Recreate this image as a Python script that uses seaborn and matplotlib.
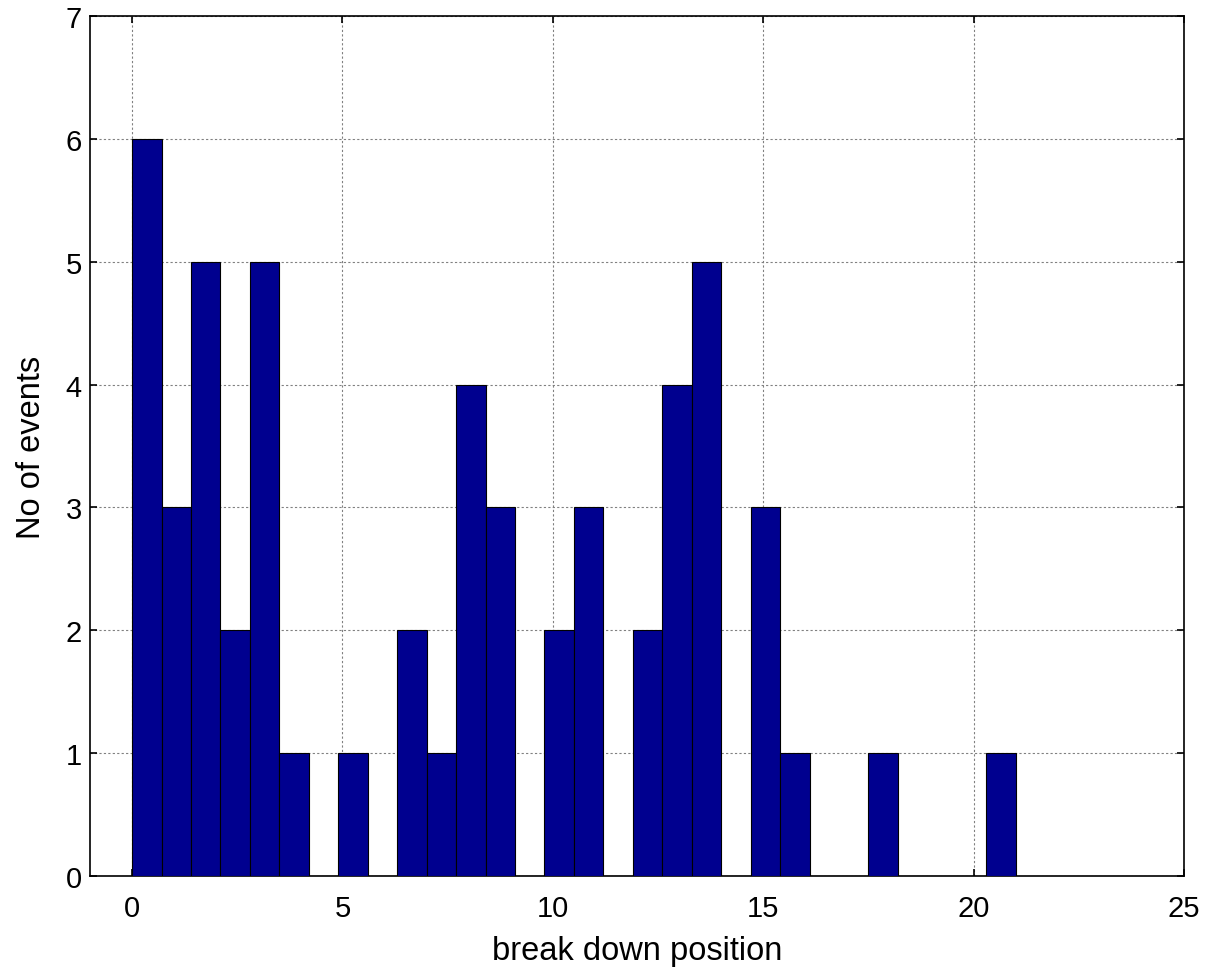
import numpy as np
import pandas as pd
import matplotlib
matplotlib.use("Agg")
import matplotlib.pyplot as plt
import seaborn as sns

# Histogram data (bins of width 0.7 from 0 to 21)
bin_width = 0.7
n_bins = 30
counts = [6, 3, 5, 2, 5, 1, 0, 1, 0, 2,
          1, 4, 3, 0, 2, 3, 0, 2, 4, 5,
          0, 3, 1, 0, 0, 1, 0, 0, 0, 1]
x_ticks = [0, 5, 10, 15, 20, 25]
y_ticks = [0, 1, 2, 3, 4, 5, 6, 7]
x_label = "break down position"
y_label = "No of events"

edges = np.arange(n_bins + 1) * bin_width
centers = (edges[:-1] + edges[1:]) / 2
df = pd.DataFrame({"pos": centers, "count": counts})

sns.set_style("white")
plt.rcParams["font.family"] = ["Liberation Sans", "DejaVu Sans"]
plt.rcParams["text.color"] = "black"
plt.rcParams["axes.labelcolor"] = "black"

fig = plt.figure(figsize=(12.09, 9.70), dpi=100)
ax = fig.add_axes([90 / 1209, 1 - 877 / 970, (1184 - 90) / 1209, (877 - 17) / 970])

sns.histplot(data=df, x="pos", weights="count", binwidth=bin_width,
             binrange=(0, n_bins * bin_width), ax=ax,
             color="#00008F", edgecolor="black", linewidth=0.8, alpha=1.0,
             zorder=3)

ax.set_xlim(-1, 25)
ax.set_ylim(0, 7)
ax.set_xticks(x_ticks)
ax.set_yticks(y_ticks)
ax.set_xlabel(x_label, fontsize=23.5, labelpad=9, color="black")
ax.set_ylabel(y_label, fontsize=23.5, labelpad=13, color="black")
ax.tick_params(axis="both", labelsize=21, direction="in", length=5, width=1.2,
               top=True, right=True, bottom=True, left=True, colors="black")
ax.tick_params(axis="x", pad=13)
ax.tick_params(axis="y", pad=6)
ax.grid(True, linestyle=(0, (2, 2)), color="#808080", linewidth=0.8, zorder=0)
ax.set_axisbelow(True)
for s in ax.spines.values():
    s.set_visible(True)
    s.set_color("black")
    s.set_linewidth(1.2)

fig.savefig("out.png", dpi=100, facecolor="white")
